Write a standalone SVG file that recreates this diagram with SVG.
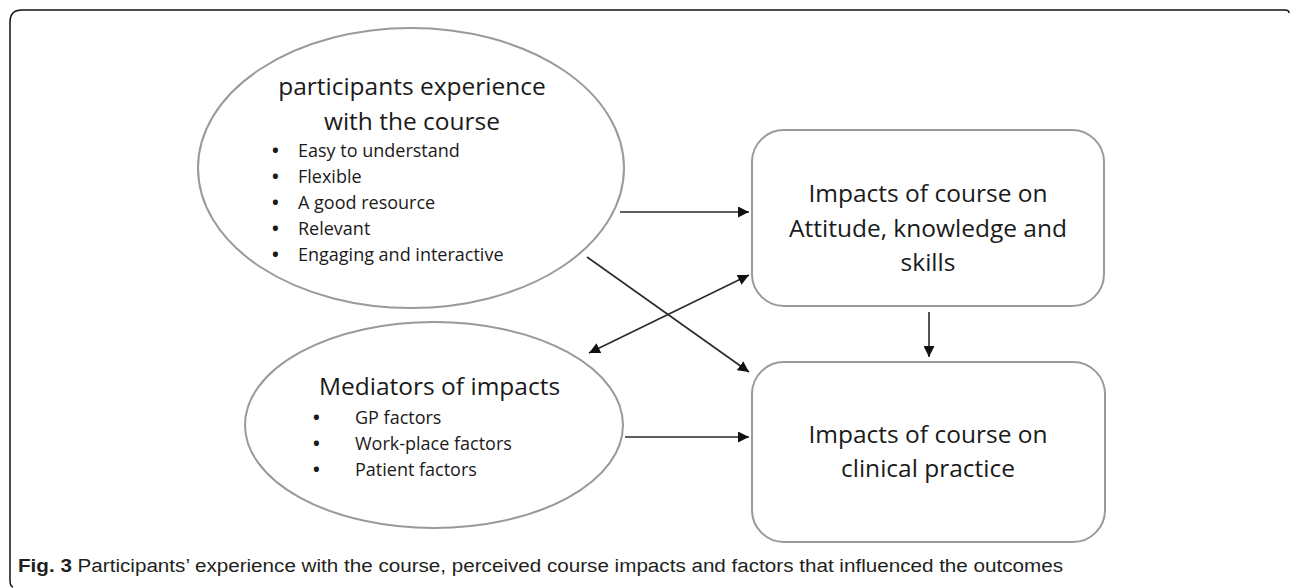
<svg xmlns="http://www.w3.org/2000/svg" width="1290" height="588" viewBox="0 0 1290 588">
<style>
.node{fill:#fff;stroke:#9a9a9a;stroke-width:2}
.t{font-family:"Open Sans","Noto Sans",sans-serif;fill:#1a1a1a}
.h{font-size:24.5px}
.b{font-size:18px}
.dot{font-weight:bold}
.c{stroke:#2a2a2a;stroke-width:1.6;fill:none}
.cap{font-family:"Liberation Sans",Arial,sans-serif;font-size:18px;fill:#231f20}
</style>
<defs>
<marker id="ah" viewBox="0 0 10 10" refX="10" refY="5" markerWidth="11" markerHeight="11" markerUnits="userSpaceOnUse" orient="auto-start-reverse">
<path d="M0,0 L10,5 L0,10 z" fill="#111"/>
</marker>
</defs>
<rect width="1290" height="588" fill="#fff"/>
<path d="M1289,13 Q1289,10 1285,10 L22,10 Q10,10 10,22 L10,581 Q10,586 13,587" fill="none" stroke="#111" stroke-width="1.5"/>

<g id="experience">
<ellipse class="node" cx="411" cy="168" rx="213" ry="140"/>
<text class="t h" x="412" y="95" text-anchor="middle">participants experience</text>
<text class="t h" x="412" y="130" text-anchor="middle">with the course</text>
<g class="t b">
<text class="dot" x="272" y="157">•</text><text x="298" y="157">Easy to understand</text>
<text class="dot" x="272" y="183">•</text><text x="298" y="183">Flexible</text>
<text class="dot" x="272" y="209">•</text><text x="298" y="209">A good resource</text>
<text class="dot" x="272" y="235">•</text><text x="298" y="235">Relevant</text>
<text class="dot" x="272" y="261">•</text><text x="298" y="261">Engaging and interactive</text>
</g>
</g>

<g id="mediators">
<ellipse class="node" cx="434" cy="425" rx="189" ry="103"/>
<text class="t h" x="319" y="395">Mediators of impacts</text>
<g class="t b">
<text class="dot" x="313" y="424">•</text><text x="355" y="424">GP factors</text>
<text class="dot" x="313" y="450">•</text><text x="355" y="450">Work-place factors</text>
<text class="dot" x="313" y="476">•</text><text x="355" y="476">Patient factors</text>
</g>
</g>

<g id="impacts-aks">
<rect class="node" x="752" y="130" width="352" height="176" rx="32"/>
<g class="t h" text-anchor="middle">
<text x="928" y="202">Impacts of course on</text>
<text x="928" y="237">Attitude, knowledge and</text>
<text x="928" y="271">skills</text>
</g>
</g>

<g id="impacts-practice">
<rect class="node" x="752" y="362" width="353" height="180" rx="32"/>
<g class="t h" text-anchor="middle">
<text x="928" y="443">Impacts of course on</text>
<text x="928" y="477">clinical practice</text>
</g>
</g>

<g id="connectors">
<line class="c" x1="620" y1="212" x2="749" y2="212" marker-end="url(#ah)"/>
<line class="c" x1="587" y1="257" x2="749" y2="372" marker-end="url(#ah)"/>
<line class="c" x1="589" y1="353" x2="749" y2="275" marker-start="url(#ah)" marker-end="url(#ah)"/>
<line class="c" x1="929" y1="312" x2="929" y2="357" marker-end="url(#ah)"/>
<line class="c" x1="625" y1="437" x2="749" y2="437" marker-end="url(#ah)"/>
</g>

<text class="cap" x="18" y="572" textLength="1045" lengthAdjust="spacingAndGlyphs"><tspan font-weight="bold">Fig. 3</tspan> Participants’ experience with the course, perceived course impacts and factors that influenced the outcomes</text>
</svg>
